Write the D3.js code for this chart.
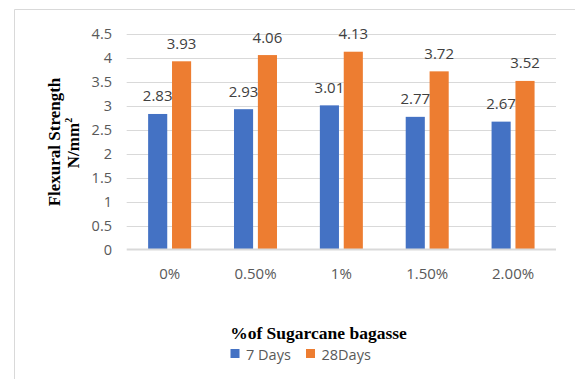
<!DOCTYPE html>
<html><head><meta charset="utf-8">
<script src="https://cdn.jsdelivr.net/npm/d3@7"></script>
<style>body{margin:0;background:#fff}svg{display:block}</style>
</head><body>
<script>
const categories = ["0%", "0.50%", "1%", "1.50%", "2.00%"];
const seriesNames = ["7 Days", "28Days"];
const days7 = [2.83, 2.93, 3.01, 2.77, 2.67];
const days28 = [3.93, 4.06, 4.13, 3.72, 3.52];
const yTicks = [0, 0.5, 1, 1.5, 2, 2.5, 3, 3.5, 4, 4.5];
const colors = ["#4472C4", "#ED7D31"];

const W = 575, H = 379;
const svg = d3.select("body").append("svg").attr("width", W).attr("height", H);

// chart border
svg.append("path").attr("d", "M14.5,379 V9.5 H575")
  .attr("fill", "none").attr("stroke", "#d9d9d9").attr("stroke-width", 1);

const x = d3.scaleBand().domain(categories).range([126.7, 556]);
const y = d3.scaleLinear().domain([0, 4.5]).range([249.5, 34]);
const inner = d3.scaleBand().domain(seriesNames).range([x.bandwidth()/2 - 21.5, x.bandwidth()/2 + 21.5]).paddingInner(0.2);

const font = "'Open Sans', Calibri, Carlito, 'Liberation Sans', Arial, sans-serif";

// gridlines
svg.append("g").selectAll("line").data(yTicks.filter(d => d > 0)).join("line")
  .attr("x1", 126.7).attr("x2", 556)
  .attr("y1", d => Math.round(y(d)) + 0.5).attr("y2", d => Math.round(y(d)) + 0.5)
  .attr("stroke", "#d9d9d9").attr("stroke-width", 1);

// y axis labels
const yAxis = d3.axisLeft(y).tickValues(yTicks).tickSize(0).tickPadding(0).tickFormat(d => String(d));
const ya = svg.append("g").attr("transform", "translate(112,0)").call(yAxis);
ya.select(".domain").remove();
ya.selectAll("text").attr("fill", "#595959").style("font-family", font).style("font-size", "14.5px");

const data = categories.map((c, i) => ({c, vals: [days7[i], days28[i]]}));

const groups = svg.append("g").selectAll("g").data(data).join("g")
  .attr("transform", d => `translate(${x(d.c)},0)`);

groups.selectAll("rect").data(d => d.vals.map((v, j) => ({v, s: seriesNames[j], j}))).join("rect")
  .attr("x", d => inner(d.s))
  .attr("width", inner.bandwidth())
  .attr("y", d => y(d.v))
  .attr("height", d => y(0) - y(d.v))
  .attr("fill", d => colors[d.j]);

groups.selectAll("text").data(d => d.vals.map((v, j) => ({v, s: seriesNames[j]}))).join("text")
  .attr("x", d => inner(d.s) + inner.bandwidth()/2)
  .attr("y", d => y(d.v) - 12.5)
  .attr("text-anchor", "middle")
  .attr("fill", "#404040")
  .style("font-family", font).style("font-size", "15px")
  .text(d => d.v.toFixed(2));

// x axis line
svg.append("line").attr("x1", 126.7).attr("x2", 556).attr("y1", 249.5).attr("y2", 249.5)
  .attr("stroke", "#d9d9d9").attr("stroke-width", 2);

// x axis labels
const xAxis = d3.axisBottom(x).tickSize(0).tickPadding(0);
const xa = svg.append("g").attr("transform", "translate(0,268)").call(xAxis);
xa.select(".domain").remove();
xa.selectAll("text").attr("fill", "#595959").style("font-family", font).style("font-size", "15px");

// y title
const serif = "'Times New Roman', 'Liberation Serif', serif";
const yt = svg.append("text").attr("transform", "translate(60,142) rotate(-90)")
  .attr("text-anchor", "middle").style("font-family", serif).style("font-weight", "bold").style("font-size", "17px").attr("fill", "#000");
yt.text("Flexural Strength");
const yt2 = svg.append("text").attr("transform", "translate(79,143) rotate(-90)")
  .attr("text-anchor", "middle").style("font-family", serif).style("font-weight", "bold").style("font-size", "17px").attr("fill", "#000");
yt2.append("tspan").text("N/mm");
yt2.append("tspan").attr("dy", "-7").style("font-size", "10px").text("2");

// x title
svg.append("text").attr("x", 318.5).attr("y", 338.5).attr("text-anchor", "middle")
  .style("font-family", serif).style("font-weight", "bold").style("font-size", "17.5px").attr("fill", "#000")
  .text("%of Sugarcane bagasse");

// legend
const leg = svg.append("g");
const legX = [230.5, 306];
seriesNames.forEach((s, i) => {
  leg.append("rect").attr("x", legX[i]).attr("y", 349).attr("width", 9).attr("height", 9).attr("fill", colors[i]);
  leg.append("text").attr("x", legX[i] + 15.5).attr("y", 359.5)
    .attr("fill", "#595959").style("font-family", font).style("font-size", "14.5px").text(s);
});
</script>
</body></html>
